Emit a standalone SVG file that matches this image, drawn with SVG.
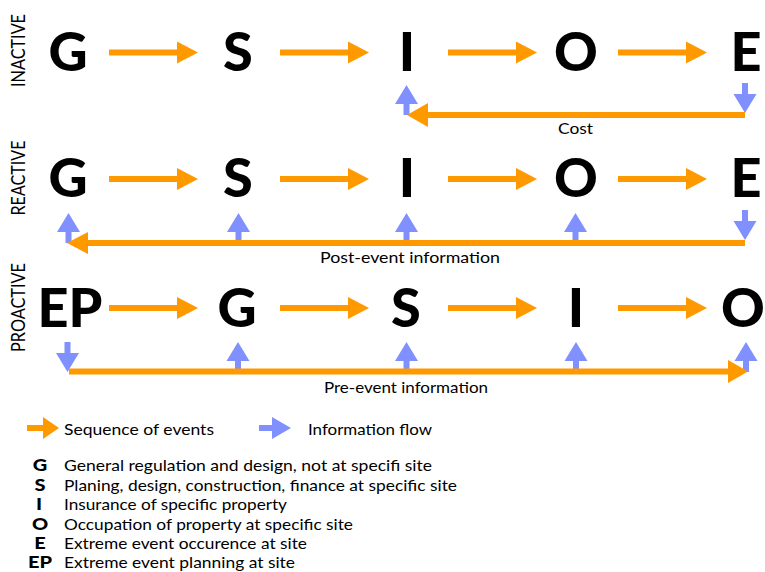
<svg xmlns="http://www.w3.org/2000/svg" xmlns:xlink="http://www.w3.org/1999/xlink" width="765" height="572" viewBox="0 0 765 572">
<style>
.big{font-family:Lato,"Liberation Sans",sans-serif;font-weight:900;font-size:54px;fill:#000;text-anchor:middle}
.lbl{font-family:Lato,"Liberation Sans",sans-serif;font-weight:400;font-size:19px;fill:#000;text-anchor:middle}
.txt{font-family:Lato,"Liberation Sans",sans-serif;font-weight:400;font-size:16px;fill:#000}
.mid{text-anchor:middle}
.key{font-family:Lato,"Liberation Sans",sans-serif;font-weight:900;font-size:16px;fill:#000;text-anchor:middle}
.or{fill:#ff9900}
.bl{fill:#8090ff}
</style>
<defs>
<path id="sa" d="M0,-3 H68 V-11 L89,0 L68,11 V3 H0 Z"/>
<path id="up" d="M0,0 L11.5,19 H3 V30 H-3 V19 H-11.5 Z"/>
<path id="dn" d="M0,0 L-11.5,-19 H-3 V-30 H3 V-19 H11.5 Z"/>
</defs>
<g id="row-labels">
<text class="lbl" transform="translate(25,50.5) rotate(-90)" textLength="73" lengthAdjust="spacingAndGlyphs">INACTIVE</text>
<text class="lbl" transform="translate(25,178) rotate(-90)" textLength="75" lengthAdjust="spacingAndGlyphs">REACTIVE</text>
<text class="lbl" transform="translate(25,307.5) rotate(-90)" textLength="89" lengthAdjust="spacingAndGlyphs">PROACTIVE</text>
</g>
<g id="row1-nodes">
<g id="r1-G"><text class="big" x="68" y="71">G</text></g>
<g id="r1-S"><text class="big" x="238" y="71">S</text></g>
<g id="r1-I"><text class="big" x="407" y="71">I</text></g>
<g id="r1-O"><text class="big" x="576" y="71">O</text></g>
<g id="r1-E"><text class="big" x="746" y="71">E</text></g>
</g>
<g id="row2-nodes">
<g id="r2-G"><text class="big" x="68" y="197">G</text></g>
<g id="r2-S"><text class="big" x="238" y="197">S</text></g>
<g id="r2-I"><text class="big" x="407" y="197">I</text></g>
<g id="r2-O"><text class="big" x="576" y="197">O</text></g>
<g id="r2-E"><text class="big" x="746" y="197">E</text></g>
</g>
<g id="row3-nodes">
<g id="r3-EP"><text class="big" x="70" y="327">EP</text></g>
<g id="r3-G"><text class="big" x="237" y="327">G</text></g>
<g id="r3-S"><text class="big" x="406" y="327">S</text></g>
<g id="r3-I"><text class="big" x="576" y="327">I</text></g>
<g id="r3-O"><text class="big" x="743" y="327">O</text></g>
</g>
<g id="connectors">
<g class="or">
<use xlink:href="#sa" x="109" y="52.5"/>
<use xlink:href="#sa" x="280" y="52.5"/>
<use xlink:href="#sa" x="448" y="52.5"/>
<use xlink:href="#sa" x="618" y="52.5"/>
<use xlink:href="#sa" x="109" y="179"/>
<use xlink:href="#sa" x="280" y="179"/>
<use xlink:href="#sa" x="448" y="179"/>
<use xlink:href="#sa" x="618" y="179"/>
<use xlink:href="#sa" x="109" y="308"/>
<use xlink:href="#sa" x="280" y="308"/>
<use xlink:href="#sa" x="448" y="308"/>
<use xlink:href="#sa" x="618" y="308"/>
</g>
<g class="bl">
<use xlink:href="#up" x="406.5" y="85"/>
<use xlink:href="#dn" x="745" y="113"/>
<use xlink:href="#up" x="68.5" y="213"/>
<use xlink:href="#up" x="238.5" y="213"/>
<use xlink:href="#up" x="406.5" y="213"/>
<use xlink:href="#up" x="575.5" y="213"/>
<use xlink:href="#dn" x="745" y="240"/>
<use xlink:href="#dn" x="67.5" y="372"/>
<use xlink:href="#up" x="238" y="342"/>
<use xlink:href="#up" x="406.5" y="342"/>
<use xlink:href="#up" x="576" y="342"/>
<use xlink:href="#up" x="746" y="342"/>
</g>
<g class="or">
<path d="M745,112 H428 V103 L407,115 L428,127 V118 H745 Z"/>
<path d="M745,240 H88 V232 L67,243 L88,254 V246 H745 Z"/>
<path d="M69,368.5 H728 V360 L748,371.5 L728,383 V374.5 H69 Z"/>
</g>
<text class="txt mid" x="575.5" y="134" textLength="35" lengthAdjust="spacingAndGlyphs">Cost</text>
<text class="txt mid" x="410" y="263" textLength="180" lengthAdjust="spacingAndGlyphs">Post-event information</text>
<text class="txt mid" x="406" y="393" textLength="164" lengthAdjust="spacingAndGlyphs">Pre-event information</text>
</g>
<g id="legend">
<path class="or" d="M27,425 H43 V417 L59,428 L43,439 V431 H27 Z"/>
<text class="txt" x="64" y="435" textLength="150" lengthAdjust="spacingAndGlyphs">Sequence of events</text>
<path class="bl" d="M259,425 H272 V417 L291,428 L272,439 V431 H259 Z"/>
<text class="txt" x="308" y="435" textLength="124" lengthAdjust="spacingAndGlyphs">Information flow</text>
<text class="key" transform="translate(40,471) scale(1.25,1)">G</text>
<text class="txt" x="64" y="471" textLength="368" lengthAdjust="spacingAndGlyphs">General regulation and design, not at specifi site</text>
<text class="key" transform="translate(40,490.5) scale(1.25,1)">S</text>
<text class="txt" x="64" y="490.5" textLength="393" lengthAdjust="spacingAndGlyphs">Planing, design, construction, finance at specific site</text>
<text class="key" transform="translate(39,510) scale(1.25,1)">I</text>
<text class="txt" x="64" y="510" textLength="223" lengthAdjust="spacingAndGlyphs">Insurance of specific property</text>
<text class="key" transform="translate(40,529.5) scale(1.25,1)">O</text>
<text class="txt" x="64" y="529.5" textLength="289" lengthAdjust="spacingAndGlyphs">Occupation of property at specific site</text>
<text class="key" transform="translate(40,549) scale(1.25,1)">E</text>
<text class="txt" x="64" y="549" textLength="243" lengthAdjust="spacingAndGlyphs">Extreme event occurence at site</text>
<text class="key" transform="translate(40,568) scale(1.25,1)">EP</text>
<text class="txt" x="64" y="568" textLength="231" lengthAdjust="spacingAndGlyphs">Extreme event planning at site</text>
</g>
</svg>
